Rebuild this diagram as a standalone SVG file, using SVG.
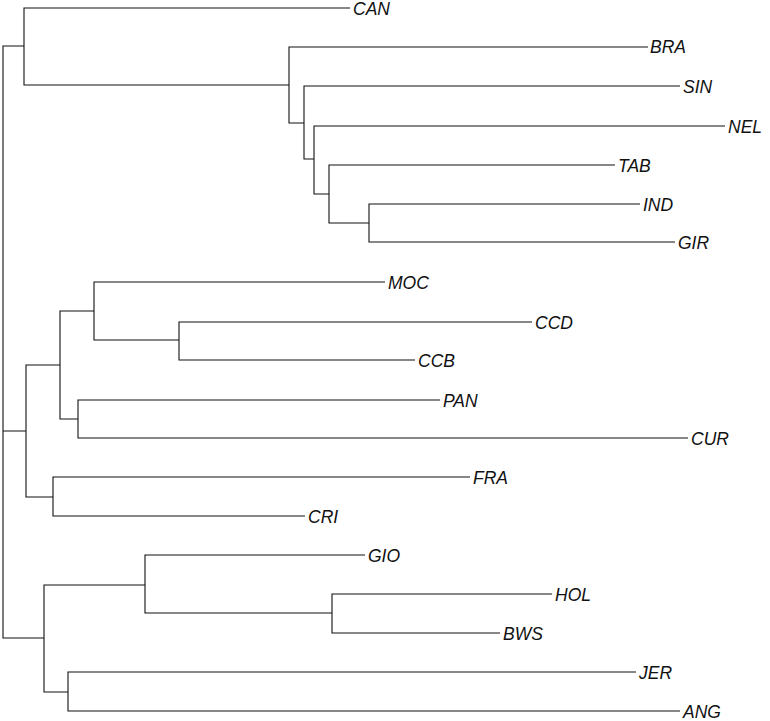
<svg xmlns="http://www.w3.org/2000/svg" width="770" height="721" viewBox="0 0 770 721">
<style>
.e{fill:none;stroke:#111;stroke-width:1.1}
text{font-family:"Liberation Sans",Arial,sans-serif;font-style:italic;font-size:17.5px;fill:#111;dominant-baseline:central}
</style>
<rect width="770" height="721" fill="#fff"/>
<g id="connectors" class="e">
<path d="M24,46H3V638H44M3,431H26"/>
<path d="M350,8H24V85H289"/>
<path d="M648,47H289V123H304"/>
<path d="M680,86H304V159H314"/>
<path d="M725,126H314V194H329"/>
<path d="M615,165H329V223H369"/>
<path d="M640,204H369V242H675"/>
<path d="M60,365H26V497H53"/>
<path d="M94,311H60V419H78"/>
<path d="M385,282H94V340H179"/>
<path d="M532,322H179V360H415"/>
<path d="M440,400H78V438H688"/>
<path d="M470,477H53V516H305"/>
<path d="M145,585H44V692H68"/>
<path d="M365,555H145V613H332"/>
<path d="M552,594H332V633H500"/>
<path d="M636,672H68V711H680"/>
</g>
<g id="nodes">
<g id="CAN"><text x="353" y="9">CAN</text></g>
<g id="BRA"><text x="650" y="47">BRA</text></g>
<g id="SIN"><text x="683" y="87">SIN</text></g>
<g id="NEL"><text x="728" y="127">NEL</text></g>
<g id="TAB"><text x="618" y="166">TAB</text></g>
<g id="IND"><text x="643" y="205">IND</text></g>
<g id="GIR"><text x="678" y="243">GIR</text></g>
<g id="MOC"><text x="388" y="283">MOC</text></g>
<g id="CCD"><text x="535" y="323">CCD</text></g>
<g id="CCB"><text x="418" y="361">CCB</text></g>
<g id="PAN"><text x="443" y="401">PAN</text></g>
<g id="CUR"><text x="691" y="439">CUR</text></g>
<g id="FRA"><text x="473" y="478">FRA</text></g>
<g id="CRI"><text x="308" y="517">CRI</text></g>
<g id="GIO"><text x="368" y="556">GIO</text></g>
<g id="HOL"><text x="555" y="595">HOL</text></g>
<g id="BWS"><text x="503" y="634">BWS</text></g>
<g id="JER"><text x="639" y="673">JER</text></g>
<g id="ANG"><text x="683" y="712">ANG</text></g>
</g>
</svg>
